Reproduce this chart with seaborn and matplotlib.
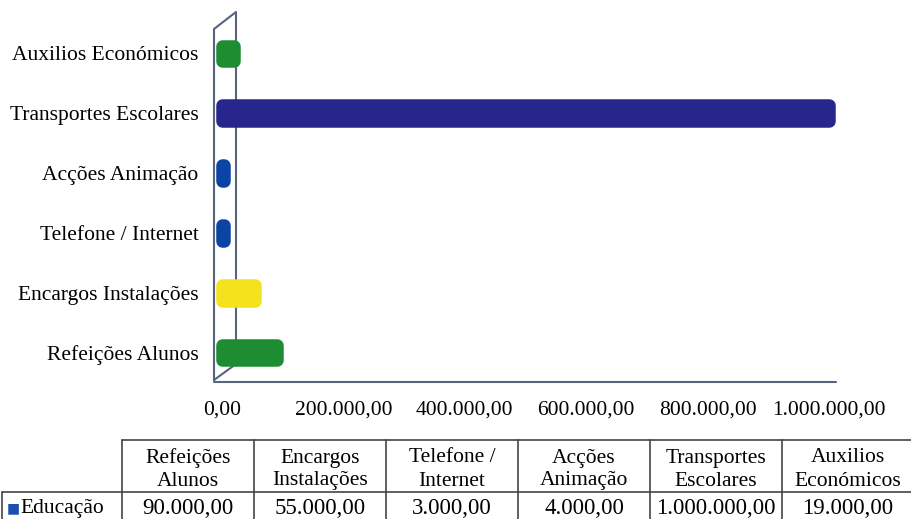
import matplotlib
matplotlib.use("Agg")
import matplotlib.pyplot as plt
import seaborn as sns
import pandas as pd

# dados (ordem da tabela)
categorias = ["Refeições Alunos", "Encargos Instalações", "Telefone / Internet",
              "Acções Animação", "Transportes Escolares", "Auxilios Económicos"]
cabecalhos = [["Refeições", "Alunos"], ["Encargos", "Instalações"], ["Telefone /", "Internet"],
              ["Acções", "Animação"], ["Transportes", "Escolares"], ["Auxilios", "Económicos"]]
valores = [90000, 55000, 3000, 4000, 1000000, 19000]
cores = ["#1e8c30", "#f4e31c", "#0a45a6", "#0a45a6", "#26268c", "#1e8c30"]
serie = "Educação"
ticks_x = [0, 200000, 400000, 600000, 800000, 1000000]


def fmt_pt(v):
    s = f"{v:,.2f}"
    return s.replace(",", "X").replace(".", ",").replace("X", ".")


sns.set_theme(style="white")
plt.rcParams['font.family'] = ['Liberation Serif', 'DejaVu Sans']
plt.rcParams['text.color'] = 'black'
plt.rcParams['xtick.color'] = 'black'
plt.rcParams['ytick.color'] = 'black'

W, H = 911, 519
fig = plt.figure(figsize=(W / 100, H / 100), dpi=100)

# parede lateral e chão (pseudo 3D), atrás de tudo
ov = fig.add_axes([0, 0, 1, 1])
ov.set_xlim(0, W)
ov.set_ylim(H, 0)
ov.axis("off")
lc = "#56647e"
ov.plot([214, 214, 236, 236, 214], [380, 29, 12, 364, 380], color=lc, lw=1.5)
ov.plot([214, 836], [382, 382], color=lc, lw=1.5)

# eixo principal do gráfico (em pixeis da figura)
left, right, top, bottom = 222, 829, 23.5, 382.5
ax = fig.add_axes([left / W, (H - bottom) / H, (right - left) / W, (bottom - top) / H])
ax.set_facecolor("none")

df = pd.DataFrame({"categoria": categorias, "valor": valores})
ordem = categorias[::-1]
paleta = dict(zip(categorias, cores))
sns.barplot(data=df, x="valor", y="categoria", hue="categoria", order=ordem,
            palette=paleta, saturation=1, legend=False, width=0.26, ax=ax, zorder=3)

# extremidades arredondadas (efeito cilindro)
for p in ax.patches:
    p.set_edgecolor(p.get_facecolor())
    p.set_linewidth(9)
    p.set_joinstyle("round")
    p.set_clip_on(False)

ax.set_xlim(0, 1000000)
ax.set_ylim(5.5, -0.5)
ax.set_xticks(ticks_x)
ax.set_xticklabels([fmt_pt(t) for t in ticks_x], fontsize=15.5)
ax.tick_params(axis="x", length=0, pad=13)
ax.tick_params(axis="y", length=0, pad=17, labelsize=15.5)
ax.set_xlabel("")
ax.set_ylabel("")
for s in ax.spines.values():
    s.set_visible(False)
ax.grid(False)

# tabela de dados
tb = fig.add_axes([0, 0, 1, 1])
tb.set_xlim(0, W)
tb.set_ylim(H, 0)
tb.axis("off")
xs = [122, 254, 386, 518, 650, 782, 914]
y0, y1, y2 = 440, 492, 522
tc = "#444444"
tb.plot([xs[0], W], [y0, y0], color=tc, lw=1.2)
tb.plot([2, W], [y1, y1], color=tc, lw=1.2)
tb.plot([2, 2], [y1, y2], color=tc, lw=1.2)
for x in xs[:-1]:
    tb.plot([x, x], [y0, y2], color=tc, lw=1.2)
for i, (c, v) in enumerate(zip(cabecalhos, valores)):
    cx = (xs[i] + xs[i + 1]) / 2
    tb.text(cx, 458, c[0], ha="center", va="center", fontsize=15.5)
    tb.text(cx, 481, c[1], ha="center", va="center", fontsize=15.5)
    tb.text(cx, 509, fmt_pt(v), ha="center", va="center", fontsize=16.5)
tb.text(7, 508, "■", ha="left", va="center", fontsize=10, color="#1a4fb0",
        family=['DejaVu Sans'])
tb.text(20, 509, serie, ha="left", va="center", fontsize=15.5)

fig.savefig("out.png", dpi=100)
